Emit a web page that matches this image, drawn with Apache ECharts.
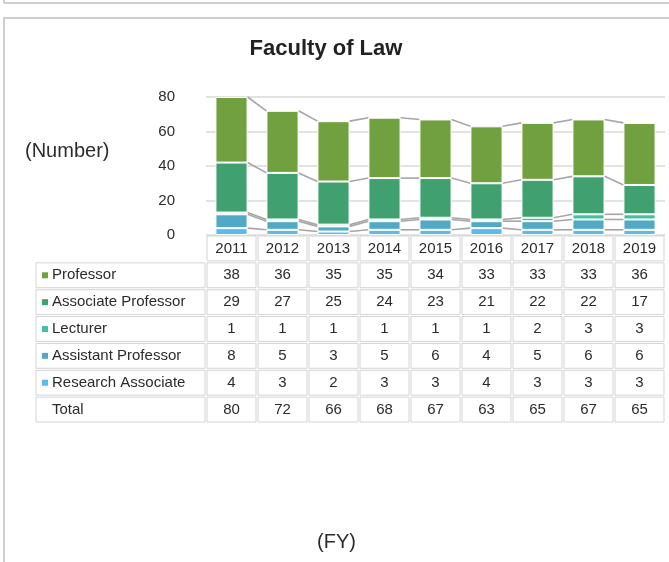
<!DOCTYPE html>
<html>
<head>
<meta charset="utf-8">
<script src="https://cdn.jsdelivr.net/npm/echarts@6/dist/echarts.min.js"></script>
<style>
  html, body { margin: 0; padding: 0; background: #fff; }
  #chart { width: 669px; height: 562px; }
</style>
</head>
<body>
<div id="chart"></div>
<script>
// ---- data ----
const years = ['2011', '2012', '2013', '2014', '2015', '2016', '2017', '2018', '2019'];
const professor = [38, 36, 35, 35, 34, 33, 33, 33, 36];
const associateProfessor = [29, 27, 25, 24, 23, 21, 22, 22, 17];
const lecturer = [1, 1, 1, 1, 1, 1, 2, 3, 3];
const assistantProfessor = [8, 5, 3, 5, 6, 4, 5, 6, 6];
const researchAssociate = [4, 3, 2, 3, 3, 4, 3, 3, 3];
const totals = [80, 72, 66, 68, 67, 63, 65, 67, 65];
const yTicks = [0, 20, 40, 60, 80];

// bottom of the stack first
const seriesDefs = [
  { name: 'Research Associate', data: researchAssociate, color: '#5bbcea' },
  { name: 'Assistant Professor', data: assistantProfessor, color: '#52a9c4' },
  { name: 'Lecturer', data: lecturer, color: '#42c0a0' },
  { name: 'Associate Professor', data: associateProfessor, color: '#41a06f' },
  { name: 'Professor', data: professor, color: '#71a03f' },
];

// ---- layout ----
const PLOT_LEFT = 206, PLOT_RIGHT = 4;
const BAR_FRAC = 0.63;
const LABEL_COL_W = 171;
const TEXT_COLOR = '#2b2b2b';
const FONT = 'Arial, "Liberation Sans", sans-serif';

// table rows: header + one per series (top of stack first) + total
const tableRows = ['header'].concat(seriesDefs.slice().reverse().map(s => s.name), ['Total']);

// cumulative levels for series lines
const levels = seriesDefs.map((s, k) =>
  years.map((y, i) => seriesDefs.slice(0, k + 1).reduce((acc, d) => acc + d.data[i], 0)));

// table cells
const cells = [];
tableRows.forEach((row, r) => {
  if (row === 'header') {
    years.forEach((y, c) => cells.push({ c, r, text: y }));
    return;
  }
  const def = seriesDefs.find(s => s.name === row);
  cells.push({ c: -1, r, text: row, color: def ? def.color : null });
  years.forEach((y, c) => cells.push({ c, r, text: String(def ? def.data[c] : totals[c]) }));
});

const chart = echarts.init(document.getElementById('chart'));

const barSeries = seriesDefs.map(s => ({
  name: s.name,
  type: 'bar',
  stack: 'total',
  xAxisIndex: 0,
  yAxisIndex: 0,
  barWidth: (BAR_FRAC * 100) + '%',
  data: s.data,
  itemStyle: { color: s.color, borderColor: '#fff', borderWidth: 1 },
  emphasis: { disabled: true },
  silent: true,
  z: 3,
}));

const seriesLines = {
  type: 'custom',
  xAxisIndex: 0,
  yAxisIndex: 0,
  silent: true,
  z: 2,
  data: years.slice(0, -1).map((y, i) => i),
  renderItem: (params, api) => {
    const i = api.value(0);
    const bw = api.size([1, 0])[0] * BAR_FRAC;
    const children = levels.map(lv => {
      const a = api.coord([i, lv[i]]);
      const b = api.coord([i + 1, lv[i + 1]]);
      return {
        type: 'line',
        shape: { x1: a[0] + bw / 2, y1: a[1], x2: b[0] - bw / 2, y2: b[1] },
        style: { stroke: '#a6a6a6', lineWidth: 1.6 },
      };
    });
    return { type: 'group', children };
  },
};

const tableSeries = {
  type: 'custom',
  xAxisIndex: 1,
  yAxisIndex: 1,
  silent: true,
  data: cells.map((cell, idx) => [Math.max(cell.c, 0), cell.r, idx]),
  renderItem: (params, api) => {
    const cell = cells[api.value(2)];
    const size = api.size([1, 1]);
    const center = api.coord([Math.max(cell.c, 0), cell.r]);
    let x, w;
    if (cell.c < 0) {
      x = params.coordSys.x - LABEL_COL_W;
      w = LABEL_COL_W;
    } else {
      x = center[0] - size[0] / 2;
      w = size[0];
    }
    const y = center[1] - size[1] / 2;
    const children = [{
      type: 'rect',
      shape: { x: x + 1, y: y + 1, width: w - 2, height: size[1] - 2 },
      style: { fill: '#fff', stroke: '#d4d4d4', lineWidth: 1 },
    }];
    if (cell.c < 0) {
      if (cell.color) {
        children.push({
          type: 'rect',
          shape: { x: x + 7, y: center[1] - 3, width: 6, height: 6 },
          style: { fill: cell.color },
        });
      }
      children.push({
        type: 'text',
        style: {
          x: x + 17, y: center[1], text: cell.text, fill: TEXT_COLOR,
          font: '15px ' + FONT, align: 'left', verticalAlign: 'middle',
        },
      });
    } else {
      children.push({
        type: 'text',
        style: {
          x: center[0], y: center[1], text: cell.text, fill: TEXT_COLOR,
          font: '15px ' + FONT, align: 'center', verticalAlign: 'middle',
        },
      });
    }
    return { type: 'group', children };
  },
};

chart.setOption({
  backgroundColor: '#fff',
  animation: false,
  title: {
    text: 'Faculty of Law',
    left: 321,
    textAlign: 'center',
    top: 33,
    textStyle: { fontSize: 22, fontWeight: 'bold', color: '#222', fontFamily: FONT },
  },
  graphic: [
    { type: 'line', shape: { x1: 4, y1: 3, x2: 669, y2: 3 }, style: { stroke: '#cfcfcf', lineWidth: 2 } },
    { type: 'line', shape: { x1: 4, y1: 0, x2: 4, y2: 3 }, style: { stroke: '#cfcfcf', lineWidth: 2 } },
    { type: 'rect', shape: { x: 4, y: 18, width: 700, height: 600 }, style: { fill: 'none', stroke: '#cfcfcf', lineWidth: 2 } },
    { type: 'text', left: 25, top: 141, style: { text: '(Number)', font: '20px ' + FONT, fill: TEXT_COLOR } },
    { type: 'text', left: 317, top: 532, style: { text: '(FY)', font: '20px ' + FONT, fill: TEXT_COLOR } },
  ],
  grid: [
    { left: PLOT_LEFT, right: PLOT_RIGHT, top: 97, height: 138 },
    { left: PLOT_LEFT, right: PLOT_RIGHT, top: 235, height: 188 },
  ],
  xAxis: [
    { type: 'category', gridIndex: 0, data: years, show: false },
    { type: 'category', gridIndex: 1, data: years, show: false },
  ],
  yAxis: [
    {
      type: 'value', gridIndex: 0, min: yTicks[0], max: yTicks[yTicks.length - 1], interval: 20,
      axisLine: { show: false }, axisTick: { show: false },
      axisLabel: { color: TEXT_COLOR, fontSize: 15, fontFamily: FONT, margin: 31 },
      splitLine: { lineStyle: { color: '#d9d9d9', width: 1.5 } },
    },
    { type: 'category', gridIndex: 1, data: tableRows, inverse: true, show: false },
  ],
  series: [seriesLines].concat(barSeries, [tableSeries]),
});
</script>
</body>
</html>
